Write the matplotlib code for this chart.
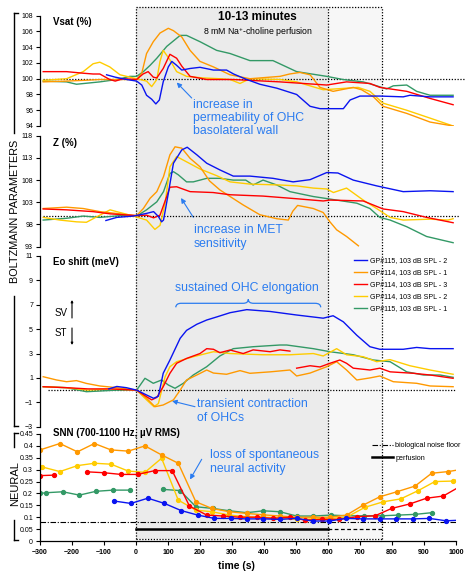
import numpy as np
import matplotlib
matplotlib.use('Agg')
import matplotlib.pyplot as plt
from matplotlib.path import Path
from matplotlib.patches import PathPatch
from matplotlib.lines import Line2D

plt.rcParams['font.family'] = ['Liberation Sans', 'DejaVu Sans']
plt.rcParams['mathtext.default'] = 'regular'

# ---------------- data ----------------
series_labels = ['GP#115, 103 dB SPL - 2', 'GP#114, 103 dB SPL - 1', 'GP#114, 103 dB SPL - 3',
                 'GP#114, 103 dB SPL - 2', 'GP#115, 103 dB SPL - 1']
series_colors = ['#0a14f0', '#ff9900', '#ff0000', '#ffcc00', '#339966']

# Vsat (%)
vsat_blue_t = [-92, -65, -29, 2, 18, 33, 49, 62, 73, 85, 101, 112, 127, 143, 169, 200, 242, 283, 305, 340, 387, 440, 502, 544, 575, 648, 669, 700, 762, 835, 856, 919, 991]
vsat_blue_v = [100.5, 100.2, 99.9, 99.7, 99.2, 97.9, 97.4, 96.8, 97.3, 99.6, 101.5, 102.2, 101.7, 101.1, 101.3, 101.45, 101.1, 101.1, 100.6, 100.0, 99.3, 98.8, 98.0, 96.5, 96.2, 96.2, 97.3, 97.8, 97.8, 97.7, 97.9, 97.7, 97.7]
vsat_orange_t = [-290, -217, -160, -113, -60, 2, 18, 33, 54, 75, 101, 117, 143, 169, 200, 242, 294, 356, 450, 480, 512, 544, 575, 616, 679, 705, 742, 772, 846, 919, 991]
vsat_orange_v = [99.6, 99.7, 99.8, 99.9, 99.9, 99.9, 100.7, 103.2, 104.7, 105.8, 106.4, 106.1, 105.3, 103.6, 102.2, 101.5, 100.5, 100.0, 100.3, 100.6, 100.8, 100.5, 98.9, 98.4, 98.9, 98.6, 97.7, 96.5, 95.6, 94.5, 94.0]
vsat_red_t = [-290, -217, -165, -134, -113, -82, -65, -40, 2, 22, 38, 54, 65, 85, 106, 127, 143, 169, 221, 304, 450, 596, 658, 731, 762, 846, 919, 991]
vsat_red_v = [100.9, 100.9, 100.7, 100.6, 100.6, 99.9, 99.7, 100.0, 99.9, 100.6, 100.9, 100.2, 100.1, 101.3, 103.1, 102.6, 101.6, 100.3, 99.9, 99.9, 99.6, 99.2, 99.6, 99.4, 98.9, 98.4, 97.5, 96.7]
vsat_yellow_t = [-290, -217, -165, -134, -113, -82, -50, 2, 33, 49, 65, 75, 85, 106, 127, 158, 210, 262, 294, 325, 356, 450, 502, 585, 658, 694, 731, 772, 846, 919, 991]
vsat_yellow_v = [99.8, 100.0, 100.9, 101.9, 102.1, 101.5, 100.5, 100.0, 99.7, 99.0, 99.9, 102.2, 103.6, 102.4, 100.9, 100.3, 100.1, 100.0, 99.9, 99.4, 100.0, 99.9, 99.6, 98.6, 98.8, 98.9, 98.4, 96.9, 96.0, 95.0, 94.0]
vsat_green_t = [-290, -217, -186, -113, -60, -19, 2, 23, 44, 65, 96, 138, 158, 200, 252, 294, 356, 428, 502, 596, 647, 710, 752, 783, 804, 846, 877, 919, 991]
vsat_green_v = [99.7, 99.6, 99.3, 99.6, 99.9, 100.3, 100.3, 100.9, 101.7, 102.6, 104.1, 105.5, 105.5, 104.7, 103.6, 103.2, 102.3, 102.3, 100.9, 100.3, 99.9, 99.6, 99.1, 98.7, 99.1, 99.2, 98.4, 97.9, 97.9]

# Z (%)
z_blue_t = [-94, -60, -8, 33, 55, 70, 80, 86, 101, 117, 143, 160, 190, 221, 262, 304, 356, 428, 491, 544, 596, 631, 679, 752, 835, 919, 991]
z_blue_v = [98.9, 99.6, 99.9, 100.5, 100.9, 99.8, 98.6, 99.0, 105.0, 111.8, 114.8, 115.4, 113.7, 111.8, 110.3, 108.9, 108.9, 108.4, 107.6, 108.1, 109.7, 109.6, 108.0, 106.7, 105.4, 105.6, 105.4]
z_orange_t = [-290, -217, -165, -113, -50, 2, 23, 44, 65, 86, 106, 122, 143, 169, 200, 230, 262, 294, 335, 387, 440, 476, 490, 505, 554, 585, 606, 627, 658, 695]
z_orange_v = [101.6, 101.9, 101.6, 100.9, 100.4, 100.0, 101.6, 103.9, 105.4, 108.8, 113.7, 115.5, 115.2, 112.9, 111.0, 107.8, 105.8, 104.3, 102.4, 100.2, 99.3, 99.0, 101.0, 102.3, 101.6, 100.7, 98.6, 96.8, 95.3, 93.2]
z_red_t = [-290, -217, -134, -81, 2, 33, 55, 75, 96, 106, 127, 169, 241, 294, 397, 502, 585, 606, 710, 772, 835, 908, 991]
z_red_v = [101.5, 101.3, 100.9, 100.4, 100.0, 100.1, 99.5, 100.1, 104.3, 106.4, 106.5, 105.4, 105.2, 104.7, 104.4, 103.8, 103.3, 103.5, 103.3, 101.5, 100.9, 99.6, 98.4]
z_yellow_t = [-290, -238, -186, -155, -113, -81, -50, -8, 33, 59, 75, 91, 106, 127, 148, 200, 252, 294, 356, 450, 502, 554, 596, 617, 658, 710, 752, 794, 835, 919, 975, 991]
z_yellow_v = [99.6, 99.0, 98.6, 98.5, 100.1, 101.3, 100.7, 99.9, 99.0, 96.9, 97.8, 102.8, 111.0, 113.3, 112.5, 110.5, 109.0, 107.6, 107.1, 106.9, 106.7, 106.2, 106.0, 105.2, 106.2, 103.5, 101.6, 99.6, 99.0, 99.2, 99.0, 99.3]
z_green_t = [-290, -217, -165, -113, -50, 2, 33, 65, 86, 106, 117, 132, 158, 179, 221, 262, 304, 343, 366, 397, 440, 481, 554, 627, 690, 731, 762, 794, 846, 908, 991]
z_green_v = [99.0, 99.4, 99.9, 99.6, 100.0, 99.9, 101.3, 103.1, 105.4, 109.5, 109.9, 109.2, 107.6, 107.6, 108.4, 108.4, 108.0, 108.0, 106.9, 108.0, 106.9, 105.4, 104.3, 103.5, 102.8, 101.6, 99.6, 99.0, 97.5, 95.3, 93.9]

# Eo shift (meV)
eo_blue_t = [-85, -60, -30, 2, 33, 55, 70, 85, 106, 138, 158, 190, 221, 252, 294, 346, 419, 502, 585, 616, 648, 690, 731, 762, 835, 877, 919, 991]
eo_blue_v = [0.1, 0.3, 0.2, 0.0, -0.4, -0.67, -0.5, 1.38, 2.47, 4.25, 4.9, 5.4, 5.75, 6.0, 6.35, 6.6, 6.45, 6.16, 5.9, 6.1, 5.6, 4.5, 3.56, 3.35, 3.35, 3.5, 3.4, 3.4]
eo_orange_t = [-290, -248, -217, -186, -155, -113, -60, 2, 33, 59, 85, 117, 138, 158, 190, 221, 242, 283, 325, 356, 420, 481, 502, 544, 596, 627, 658, 690, 731, 762, 804, 877, 919, 991]
eo_orange_v = [1.1, 0.83, 0.69, 0.78, 0.55, 0.34, 0.2, 0.0, -0.67, -1.36, -1.22, -0.8, 0.0, 0.83, 1.24, 1.65, 1.4, 1.3, 1.6, 1.38, 1.5, 1.65, 1.16, 1.4, 1.92, 2.33, 1.65, 0.83, 1.0, 1.16, 0.69, 0.56, 0.34, 0.28]
eo_red_t = [-290, -217, -150, -80, 2, 33, 49, 65, 85, 106, 127, 158, 200, 221, 242, 262, 294, 335, 366, 419, 450, 481, 490, 502, 544, 575, 606, 637, 658, 679, 731, 762, 794, 867, 919, 991]
eo_red_v = [0.28, 0.2, 0.1, 0.1, 0.0, -0.54, -0.8, -0.6, 0.28, 1.38, 2.2, 2.6, 3.0, 3.4, 3.35, 3.07, 3.29, 3.0, 3.3, 3.15, 3.3, 3.2, np.nan, 1.8, 2.0, 1.9, 2.2, 2.47, 2.2, 1.8, 1.65, 1.8, 1.5, 1.38, 1.24, 0.97]
eo_yellow_t = [-290, -217, -150, -80, 2, 33, 56, 70, 91, 106, 127, 179, 242, 294, 397, 481, 554, 585, 627, 658, 710, 752, 794, 856, 919, 991]
eo_yellow_v = [0.28, 0.2, 0.0, 0.1, 0.0, -0.8, -1.36, -1.1, 1.1, 1.92, 2.33, 2.74, 3.15, 3.0, 2.9, 2.9, 3.0, 2.8, 3.4, 2.9, 2.74, 2.33, 2.5, 2.0, 1.65, 1.3]
eo_green_t = [-290, -217, -155, -60, 2, 28, 54, 80, 101, 122, 148, 179, 221, 262, 304, 366, 450, 471, 554, 606, 679, 742, 794, 846, 898, 950, 991]
eo_green_v = [0.28, 0.2, -0.13, 0.0, 0.0, 0.97, 0.56, 0.83, 0.42, 0.15, 0.56, 1.24, 1.92, 2.8, 3.4, 3.56, 3.7, 3.7, 3.4, 3.15, 2.9, 2.47, 2.33, 1.5, 1.24, 1.24, 1.05]

# SNN (700-1100 Hz, uV RMS)
snn_blue_t = [-68, -16, 37, 89, 141, 193, 245, 297, 346, 398, 450, 502, 552, 604, 656, 708, 762, 812, 865, 917, 969, 1020]
snn_blue_v = [0.168, 0.158, 0.18, 0.158, 0.128, 0.109, 0.095, 0.095, 0.093, 0.093, 0.091, 0.095, 0.084, 0.084, 0.095, 0.093, 0.093, 0.093, 0.093, 0.095, 0.085, 0.088]
snn_orange_t = [-300, -238, -183, -130, -78, -24, 28, 80, 132, 187, 237, 292, 346, 398, 450, 502, 554, 606, 658, 710, 762, 815, 872, 924, 976, 1020]
snn_orange_v = [0.383, 0.41, 0.375, 0.41, 0.383, 0.378, 0.40, 0.362, 0.327, 0.165, 0.137, 0.123, 0.116, 0.11, 0.105, 0.10, 0.10, 0.10, 0.109, 0.151, 0.186, 0.207, 0.231, 0.285, 0.292, 0.302]
snn_red_t = [-300, -256, -200, -154, -99, -47, 5, 59, 113, 167, 221, 273, 325, 377, 429, 481, 528, 580, 635, 690, 747, 799, 856, 908, 960, 1020]
snn_red_v = [0.275, 0.277, np.nan, 0.291, 0.287, 0.28, 0.28, 0.296, 0.296, 0.147, 0.109, 0.105, 0.10, 0.10, 0.095, 0.10, 0.088, 0.091, 0.091, 0.102, 0.106, 0.137, 0.156, 0.18, 0.189, 0.235]
snn_yellow_t = [-295, -238, -183, -130, -78, -24, 28, 80, 132, 187, 237, 292, 346, 398, 450, 502, 554, 606, 658, 716, 773, 827, 882, 934, 990, 1020]
snn_yellow_v = [0.312, 0.292, 0.317, 0.327, 0.323, 0.294, 0.289, 0.348, 0.172, 0.130, 0.123, 0.109, 0.102, 0.10, 0.097, 0.091, 0.093, 0.095, 0.10, 0.142, 0.165, 0.177, 0.212, 0.25, 0.252, 0.265]
snn_green_t = [-300, -281, -229, -177, -125, -71, -19, 30, 85, 138, 187, 240, 292, 346, 398, 450, 502, 554, 608, 660, 712, 768, 820, 872, 924]
snn_green_v = [0.20, 0.203, 0.207, 0.193, 0.209, 0.214, 0.214, np.nan, 0.217, 0.212, 0.144, 0.137, 0.127, 0.119, 0.127, 0.123, 0.105, 0.105, 0.109, 0.106, 0.106, 0.106, 0.109, 0.112, 0.119]

noise_floor = 0.08
perfusion_level = 0.05
perfusion_start, perfusion_end, washout_end = 0, 600, 770

vsat_ticks = [94, 96, 98, 100, 102, 104, 106, 108]
z_ticks = [93, 98, 103, 108, 113, 118]
eo_ticks = [-3, -1, 1, 3, 5, 7, 9, 11]
snn_ticks = [0, 0.05, 0.1, 0.15, 0.2, 0.25, 0.3, 0.35, 0.4, 0.45]
snn_ticklabels = ['0', '0.05', '0.1', '0.15', '0.2', '0.25', '0.3', '0.35', '0.4', '0.45']
time_ticks = list(range(-300, 1001, 100))

# ---------------- figure ----------------
W, H = 469, 571
fig = plt.figure(figsize=(W / 100, H / 100), dpi=100)

def fx(x):
    return x / W

def fy(y):
    return 1 - y / H

X0, X1 = 40, 456

def add_ax(top, bottom, z=2):
    a = fig.add_axes([fx(X0), fy(bottom), (X1 - X0) / W, (bottom - top) / H])
    a.set_zorder(z)
    a.patch.set_alpha(0)
    a.set_xlim(-300, 1000)
    return a

ANN = '#2b7cf0'
DOT = (0, (1.0, 1.3))

# background shading
ax_bg = add_ax(7, 539, z=0)
ax_bg.set_ylim(0, 1)
ax_bg.axis('off')
ax_bg.axvspan(perfusion_start, perfusion_end, color='#ebebeb', lw=0)
ax_bg.axvspan(perfusion_end, washout_end, color='#f7f7f7', lw=0)
for xv in [perfusion_start, perfusion_end, washout_end]:
    ax_bg.plot([xv, xv], [0, 1], color='k', ls=DOT, lw=0.9, clip_on=False)
ax_bg.plot([perfusion_start, washout_end], [1, 1], color='k', ls=DOT, lw=0.9, clip_on=False)
ax_bg.plot([perfusion_start, washout_end], [0, 0], color='k', ls=DOT, lw=0.9, clip_on=False)

ax1 = add_ax(15.7, 126)
ax2 = add_ax(135.7, 246.7)
ax3 = add_ax(256, 426.7)
ax4 = add_ax(434, 541)

def style(a, ticks, labels=None, bottom=False):
    for s in ['top', 'right']:
        a.spines[s].set_visible(False)
    a.spines['left'].set_linewidth(0.9)
    a.set_yticks(ticks)
    if labels is not None:
        a.set_yticklabels(labels)
    a.tick_params(axis='y', labelsize=5, length=3, width=0.8, pad=2)
    if not bottom:
        a.spines['bottom'].set_visible(False)
        a.set_xticks([])
    else:
        a.spines['bottom'].set_linewidth(0.9)
        a.set_xticks(time_ticks)
        a.tick_params(axis='x', labelsize=5, length=3, width=0.8, pad=3)
        for lab in a.get_xticklabels():
            lab.set_fontweight('bold')

ax1.set_ylim(94, 108)
ax2.set_ylim(93, 118)
ax3.set_ylim(-3, 11)
ax4.set_ylim(0, 0.45)
style(ax1, vsat_ticks)
style(ax2, z_ticks)
style(ax3, eo_ticks)
style(ax4, snn_ticks, snn_ticklabels, bottom=True)

# baselines
ax1.plot([-290, 1028], [100, 100], color='k', ls=DOT, lw=0.9, clip_on=False, zorder=1)
ax2.plot([-290, 1010], [100, 100], color='k', ls=DOT, lw=0.9, clip_on=False, zorder=1)
ax3.plot([-275, 1000], [0, 0], color='k', ls=DOT, lw=0.9, clip_on=False, zorder=1)

vsat = [(vsat_blue_t, vsat_blue_v), (vsat_orange_t, vsat_orange_v), (vsat_red_t, vsat_red_v),
        (vsat_yellow_t, vsat_yellow_v), (vsat_green_t, vsat_green_v)]
zz = [(z_blue_t, z_blue_v), (z_orange_t, z_orange_v), (z_red_t, z_red_v),
      (z_yellow_t, z_yellow_v), (z_green_t, z_green_v)]
eo = [(eo_blue_t, eo_blue_v), (eo_orange_t, eo_orange_v), (eo_red_t, eo_red_v),
      (eo_yellow_t, eo_yellow_v), (eo_green_t, eo_green_v)]
snn = [(snn_blue_t, snn_blue_v), (snn_orange_t, snn_orange_v), (snn_red_t, snn_red_v),
       (snn_yellow_t, snn_yellow_v), (snn_green_t, snn_green_v)]

order = [4, 3, 1, 2, 0]
handles = [None] * 5
for i in order:
    c = series_colors[i]
    ax1.plot(vsat[i][0], vsat[i][1], color=c, lw=1.0, zorder=2)
    ax2.plot(zz[i][0], zz[i][1], color=c, lw=1.0, zorder=2)
    h, = ax3.plot(eo[i][0], eo[i][1], color=c, lw=1.0, zorder=2, label=series_labels[i])
    handles[i] = h
    ax4.plot(snn[i][0], snn[i][1], color=c, lw=1.0, marker='o', ms=2.8, zorder=2)

# noise floor and perfusion
nf, = ax4.plot([-300, 1000], [noise_floor, noise_floor], color='k', lw=0.8, ls=(0, (5, 1.5, 1, 1.5)), zorder=1)
pf, = ax4.plot([perfusion_start, perfusion_end], [perfusion_level] * 2, color='k', lw=1.8, zorder=1)
ax4.plot([perfusion_end, washout_end], [perfusion_level] * 2, color='k', lw=0.9, ls=(0, (3, 2)), zorder=1)

leg1 = fig.legend(handles, series_labels, loc='upper left', bbox_to_anchor=(fx(354), fy(257)),
                  frameon=False, fontsize=5, handlelength=1.9, handletextpad=0.4,
                  labelspacing=0.72, borderpad=0, borderaxespad=0)
leg2 = fig.legend([nf, pf], ['biological noise floor', 'perfusion'], loc='upper left',
                  bbox_to_anchor=(fx(372), fy(442)), frameon=False, fontsize=5.2,
                  handlelength=2.9, handletextpad=0.3, labelspacing=0.75, borderpad=0, borderaxespad=0)

# texts
fig.text(fx(257), fy(17), '10-13 minutes', ha='center', va='center', fontsize=8.5, fontweight='bold')
fig.text(fx(258), fy(32), '8 mM Na$^{+}$-choline perfusion', ha='center', va='center', fontsize=6.3)
fig.text(fx(53), fy(22), 'Vsat (%)', ha='left', va='center', fontsize=7, fontweight='bold')
fig.text(fx(53), fy(142.5), 'Z (%)', ha='left', va='center', fontsize=7, fontweight='bold')
fig.text(fx(53), fy(262.5), 'Eo shift (meV)', ha='left', va='center', fontsize=7, fontweight='bold')
fig.text(fx(53), fy(433.5), 'SNN (700-1100 Hz, µV RMS)', ha='left', va='center', fontsize=7, fontweight='bold')
fig.text(fx(236), fy(566), 'time (s)', ha='center', va='center', fontsize=7.5, fontweight='bold')
fig.text(fx(55), fy(313), 'SV', ha='left', va='center', fontsize=7)
fig.text(fx(55), fy(333), 'ST', ha='left', va='center', fontsize=7)
fig.text(fx(15), fy(211), 'BOLTZMANN PARAMETERS', ha='center', va='center', rotation=90, fontsize=7.8)
fig.text(fx(15), fy(484), 'NEURAL', ha='center', va='center', rotation=90, fontsize=8)

fig.text(fx(192.5), fy(118), 'increase in\npermeability of OHC\nbasolateral wall', ha='left', va='center',
         fontsize=8.8, color=ANN, linespacing=1.15)
fig.text(fx(194), fy(236.7), 'increase in MET\nsensitivity', ha='left', va='center',
         fontsize=8.8, color=ANN, linespacing=1.2)
fig.text(fx(175), fy(288), 'sustained OHC elongation', ha='left', va='center', fontsize=8.8, color=ANN)
fig.text(fx(197), fy(411), 'transient contraction\nof OHCs', ha='left', va='center',
         fontsize=8.8, color=ANN, linespacing=1.15)
fig.text(fx(210), fy(462), 'loss of spontaneous\nneural activity', ha='left', va='center',
         fontsize=8.8, color=ANN, linespacing=1.25)

def arrow(tail, head, color=ANN, ms=7, lw=0.8):
    ax_bg.annotate('', xy=(head[0], H - head[1]), xytext=(tail[0], H - tail[1]),
                   xycoords='figure pixels', textcoords='figure pixels',
                   arrowprops=dict(arrowstyle='-|>', color=color, lw=lw, mutation_scale=ms,
                                   shrinkA=0, shrinkB=0))

arrow((191.7, 98), (176.7, 82.5))
arrow((193.3, 217.3), (181, 198))
arrow((195, 406.7), (172, 401))
arrow((201.7, 459.3), (190, 479.5))
arrow((72, 318), (72, 300), color='k', ms=3, lw=0.8)
arrow((72, 328), (72, 345), color='k', ms=3, lw=0.8)

# brace
bp = [(175.7, 307.3), (176.2, 303.3), (181, 303.3), (243, 303.3), (248.3, 303.3), (248.3, 299.3),
      (248.3, 303.3), (253.6, 303.3), (315, 303.3), (320.7, 303.3), (320.7, 307.3)]
codes = [Path.MOVETO, Path.CURVE3, Path.CURVE3, Path.LINETO, Path.CURVE3, Path.CURVE3,
         Path.CURVE3, Path.CURVE3, Path.LINETO, Path.CURVE3, Path.CURVE3]
brace = Path([(fx(x), fy(y)) for x, y in bp], codes)
fig.add_artist(PathPatch(brace, transform=fig.transFigure, fc='none', ec=ANN, lw=0.9))

# side brackets
def vline(x, y0, y1, lw=1.0):
    fig.add_artist(Line2D([fx(x), fx(x)], [fy(y0), fy(y1)], color='k', lw=lw, transform=fig.transFigure))

def hline(x0, x1, y, lw=1.0):
    fig.add_artist(Line2D([fx(x0), fx(x1)], [fy(y), fy(y)], color='k', lw=lw, transform=fig.transFigure))

vline(13.5, 13, 133)
hline(13.5, 17.5, 13)
vline(13.5, 296, 426)
hline(13.5, 17.5, 426)
vline(13.5, 433, 447)
hline(13.5, 17.5, 433)
vline(13.5, 520, 540)
hline(13.5, 17.5, 540)

fig.savefig('out.png', dpi=100)
